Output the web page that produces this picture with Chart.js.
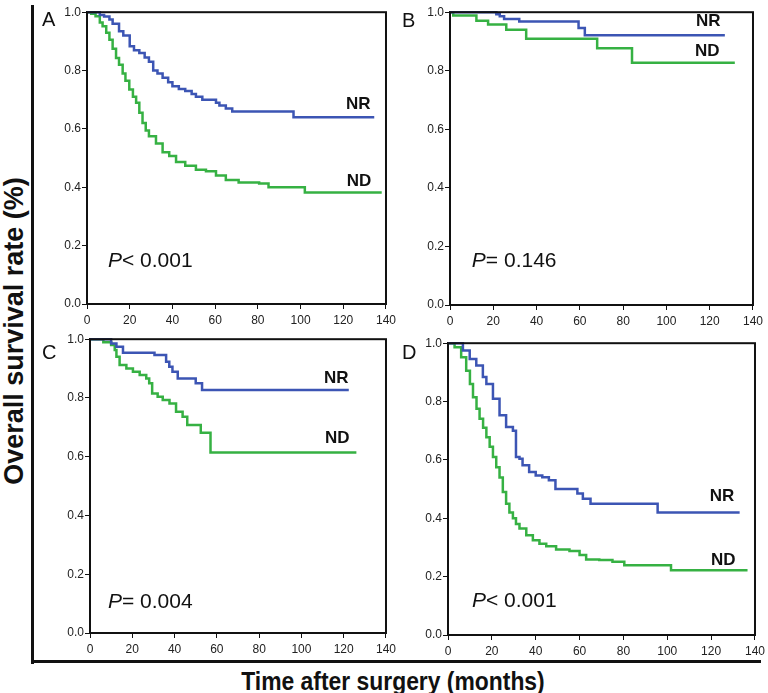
<!DOCTYPE html>
<html>
<head>
<meta charset="utf-8">
<script src="https://cdn.jsdelivr.net/npm/chart.js@4"></script>
<style>
  body { margin: 0; background: #fff; width: 768px; height: 693px; overflow: hidden; position: relative;
         font-family: "Liberation Sans", Arial, sans-serif; color: #111; }
  .panel { position: absolute; }
  .letter { position: absolute; font-size: 20px; line-height: 20px; }
  .frame { position: absolute; background: #111; }
  #ytitle { position: absolute; left: 13.5px; top: 331px; font-weight: bold; font-size: 27px; line-height: 27px;
            white-space: nowrap; transform: translate(-50%, -50%) rotate(-90deg); }
  #xtitle { position: absolute; left: 393px; top: 668px; font-weight: bold; font-size: 26px; line-height: 26px;
            white-space: nowrap; transform: translateX(-50%) scaleX(0.88); }
</style>
</head>
<body>
<div class="frame" style="left:31px; top:5px; width:3px; height:659px;"></div>
<div class="frame" style="left:31px; top:660px; width:730px; height:3px;"></div>
<div id="ytitle">Overall survival rate (%)</div>
<div id="xtitle">Time after surgery (months)</div>

<div class="panel" style="left:47px; top:4px;"><canvas id="cA" width="353" height="326"></canvas></div>
<div class="panel" style="left:410px; top:4px;"><canvas id="cB" width="357" height="327"></canvas></div>
<div class="panel" style="left:50px; top:331px;"><canvas id="cC" width="350" height="328"></canvas></div>
<div class="panel" style="left:408px; top:335px;"><canvas id="cD" width="361" height="326"></canvas></div>

<div class="letter" style="left:42px; top:9px;">A</div>
<div class="letter" style="left:402px; top:10px;">B</div>
<div class="letter" style="left:42px; top:342px;">C</div>
<div class="letter" style="left:402px; top:342px;">D</div>

<script>
// 축 눈금
const xTicks = [0, 20, 40, 60, 80, 100, 120, 140];
const yTicks = [0, 0.2, 0.4, 0.6, 0.8, 1.0];

// A: 월, 생존율
const aNrT = [0, 4, 6, 8, 10.5, 12, 15, 17, 20, 22, 24.5, 27, 29, 31, 33, 35.4, 38, 40, 43, 46, 49, 51, 54, 60.4, 62, 65, 68, 96.7, 134.5];
const aNrS = [1, 1, 0.99, 0.985, 0.975, 0.96, 0.935, 0.92, 0.883, 0.87, 0.86, 0.845, 0.83, 0.80, 0.79, 0.775, 0.76, 0.746, 0.737, 0.73, 0.72, 0.71, 0.70, 0.69, 0.68, 0.67, 0.66, 0.64, 0.64];
const aNdT = [0, 2, 4, 6, 7.3, 9, 10.5, 12, 13.6, 15, 16.7, 18, 19.8, 21.5, 23, 24.5, 26, 27.5, 29, 32.3, 35.4, 38.5, 41.7, 46, 51, 55.7, 60.4, 65, 71, 80.6, 85, 102, 138];
const aNdS = [1, 0.995, 0.986, 0.965, 0.952, 0.93, 0.906, 0.875, 0.843, 0.82, 0.79, 0.765, 0.735, 0.71, 0.69, 0.655, 0.62, 0.595, 0.575, 0.55, 0.52, 0.507, 0.487, 0.474, 0.46, 0.455, 0.44, 0.425, 0.416, 0.413, 0.40, 0.382, 0.382];

// B
const bNrT = [0, 21.4, 23, 25, 32, 59.4, 62.3, 127];
const bNrS = [1, 0.993, 0.986, 0.977, 0.968, 0.946, 0.921, 0.921];
const bNdT = [0, 1.5, 12.2, 17.6, 26, 35.2, 68, 84.1, 131.6];
const bNdS = [1, 0.989, 0.971, 0.958, 0.94, 0.909, 0.877, 0.827, 0.827];

// C
const cNrT = [0, 8, 10, 12.5, 15.6, 30.5, 36, 37.5, 39, 41.5, 50, 53, 122.4];
const cNrS = [1, 1, 0.985, 0.974, 0.954, 0.946, 0.923, 0.906, 0.889, 0.866, 0.85, 0.827, 0.827];
const cNdT = [0, 6.3, 10, 11.7, 12.5, 14, 17.2, 20.3, 23.5, 26.6, 28, 29.4, 32, 34.4, 37.6, 40.7, 43.8, 46, 52.4, 57, 126];
const cNdS = [1, 0.99, 0.98, 0.963, 0.94, 0.912, 0.9, 0.889, 0.878, 0.866, 0.85, 0.815, 0.804, 0.793, 0.781, 0.753, 0.736, 0.708, 0.682, 0.614, 0.614];

// D
const dNrT = [0, 4.5, 6.8, 9.9, 12.9, 15.9, 17.5, 20.5, 23.5, 26.5, 29.6, 31, 32.6, 34, 37, 40, 43, 46, 49, 59, 61.5, 65, 95.6, 133];
const dNrS = [1, 1, 0.975, 0.946, 0.924, 0.884, 0.86, 0.81, 0.753, 0.713, 0.70, 0.61, 0.604, 0.582, 0.559, 0.547, 0.541, 0.53, 0.50, 0.485, 0.467, 0.45, 0.42, 0.42];
const dNdT = [0, 3, 6, 8.3, 10, 11.4, 13, 14.4, 16, 17.5, 19, 20.5, 22, 23.5, 25, 26.5, 28, 29.6, 31, 32.6, 35.7, 38.7, 41.7, 44.8, 49.3, 55.4, 60, 63, 69, 75, 80.4, 101.7, 136.6];
const dNdS = [1, 0.986, 0.952, 0.906, 0.86, 0.815, 0.775, 0.741, 0.71, 0.678, 0.645, 0.61, 0.575, 0.54, 0.49, 0.45, 0.42, 0.40, 0.38, 0.365, 0.342, 0.325, 0.313, 0.304, 0.293, 0.288, 0.274, 0.259, 0.257, 0.251, 0.239, 0.222, 0.222];

const groupNames = ["NR", "ND"];
const pValues = ["< 0.001", "= 0.146", "= 0.004", "< 0.001"];

const BLUE = "#3c55b4";
const GREEN = "#36b143";
const FONT = '"Liberation Sans", Arial, sans-serif';

// 패널 설정 (라벨 위치는 데이터 좌표)
const panels = [
  { id: "cA", nr: [aNrT, aNrS], nd: [aNdT, aNdS], tags: [[127, 0.685], [127.4, 0.421]], p: [pValues[0], 9.8, 0.127] },
  { id: "cB", nr: [bNrT, bNrS], nd: [bNdT, bNdS], tags: [[119.3, 0.969], [118.9, 0.866]], p: [pValues[1], 10.1, 0.13] },
  { id: "cC", nr: [cNrT, cNrS], nd: [cNdT, cNdS], tags: [[116.5, 0.867], [117, 0.663]], p: [pValues[2], 8.5, 0.085] },
  { id: "cD", nr: [dNrT, dNrS], nd: [dNdT, dNdS], tags: [[125, 0.476], [125.5, 0.257]], p: [pValues[3], 10.9, 0.096] }
];

function toPoints(t, s) {
  return t.map((v, i) => ({ x: v, y: s[i] }));
}

// 테두리 + 텍스트
const boxPlugin = {
  id: "box",
  afterDatasetsDraw(chart, args, opts) {
    const { ctx, chartArea: a, scales } = chart;
    ctx.save();
    ctx.strokeStyle = "#111";
    ctx.lineWidth = 2;
    ctx.strokeRect(a.left, a.top, a.right - a.left, a.bottom - a.top);

    ctx.fillStyle = "#111";
    ctx.font = "bold 17px " + FONT;
    ctx.textAlign = "center";
    ctx.textBaseline = "middle";
    opts.tags.forEach((t, i) => {
      ctx.fillText(groupNames[i], scales.x.getPixelForValue(t[0]), scales.y.getPixelForValue(t[1]));
    });

    const px = scales.x.getPixelForValue(opts.p[1]);
    const py = scales.y.getPixelForValue(opts.p[2]);
    ctx.textAlign = "left";
    ctx.textBaseline = "alphabetic";
    ctx.font = "italic 21px " + FONT;
    ctx.fillText("P", px, py);
    const w = ctx.measureText("P").width;
    ctx.font = "21px " + FONT;
    ctx.fillText(opts.p[0], px + w, py);
    ctx.restore();
  }
};

function makeChart(p) {
  const ctx = document.getElementById(p.id).getContext("2d");
  new Chart(ctx, {
    type: "line",
    data: {
      datasets: [
        { label: "NR", data: toPoints(p.nr[0], p.nr[1]), borderColor: BLUE, borderWidth: 2.5, stepped: "before", pointRadius: 0, clip: 4 },
        { label: "ND", data: toPoints(p.nd[0], p.nd[1]), borderColor: GREEN, borderWidth: 2.5, stepped: "before", pointRadius: 0, clip: 4 }
      ]
    },
    options: {
      responsive: false,
      animation: false,
      layout: { padding: { top: 8, right: 12, left: 0, bottom: 0 } },
      plugins: { legend: { display: false }, tooltip: { enabled: false }, box: { tags: p.tags, p: p.p } },
      scales: {
        x: {
          type: "linear", min: 0, max: 140,
          afterBuildTicks: s => { s.ticks = xTicks.map(v => ({ value: v })); },
          afterFit: s => { s.height = 26; },
          grid: { drawOnChartArea: false, color: "#111", tickLength: 5, lineWidth: 1 },
          border: { color: "#111", width: 2 },
          ticks: { color: "#222", font: { family: FONT, size: 12 }, padding: 4, maxRotation: 0 }
        },
        y: {
          min: 0, max: 1,
          afterBuildTicks: s => { s.ticks = yTicks.map(v => ({ value: v })); },
          afterFit: s => { s.width = 40; },
          grid: { drawOnChartArea: false, color: "#111", tickLength: 5, lineWidth: 1 },
          border: { color: "#111", width: 2 },
          ticks: { color: "#222", font: { family: FONT, size: 12 }, padding: 1, callback: v => Number(v).toFixed(1) }
        }
      }
    },
    plugins: [boxPlugin]
  });
}

panels.forEach(makeChart);
</script>
</body>
</html>
